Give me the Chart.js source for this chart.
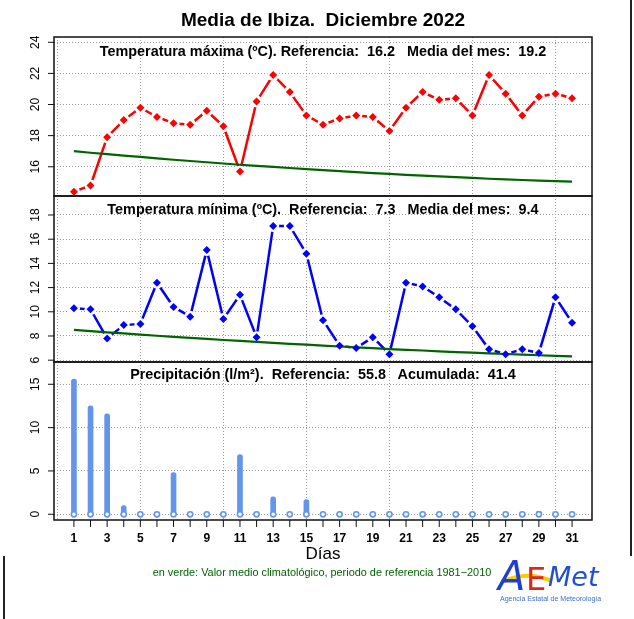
<!DOCTYPE html>
<html>
<head>
<meta charset="utf-8">
<script src="https://cdn.jsdelivr.net/npm/chart.js@4.4.0/dist/chart.umd.min.js"></script>
<style>
  body { margin: 0; background: #fff; font-family: "Liberation Sans", Arial, sans-serif; }
  #page { position: relative; width: 634px; height: 619px; overflow: hidden; }
  canvas { position: absolute; left: 0; }
  .txt { position: absolute; white-space: pre; text-align: center; transform: translate(-50%, -50%); }
  .edge { position: absolute; background: #222; width: 1.5px; }
</style>
</head>
<body>
<div id="page">
  <canvas id="cMax" width="634" height="179" style="top:27px"></canvas>
  <canvas id="cMin" width="634" height="186" style="top:186px"></canvas>
  <canvas id="cPre" width="634" height="200" style="top:352px"></canvas>

  <div class="txt" style="left:323px;top:20px;font-weight:bold;font-size:19px">Media de Ibiza.  Diciembre 2022</div>
  <div class="txt" style="left:323px;top:51px;font-weight:bold;font-size:14.4px">Temperatura máxima (ºC). Referencia:  16.2   Media del mes:  19.2</div>
  <div class="txt" style="left:323px;top:209px;font-weight:bold;font-size:14.4px">Temperatura mínima (ºC).  Referencia:  7.3   Media del mes:  9.4</div>
  <div class="txt" style="left:323px;top:374px;font-weight:bold;font-size:14.4px">Precipitación (l/m²).  Referencia:  55.8   Acumulada:  41.4</div>
  <div class="txt" style="left:323px;top:554px;font-size:17px">Días</div>
  <div class="txt" style="left:322px;top:572px;font-size:10.9px;color:#006400">en verde: Valor medio climatológico, periodo de referencia 1981−2010</div>

  <svg style="position:absolute;left:496px;top:550px" width="110" height="58">
    <path d="M6 32 C 22 24, 40 24, 56 31" stroke="#f5d000" stroke-width="4" fill="none"/>
    <text x="2" y="40" font-family="DejaVu Sans" font-style="italic" font-size="40" fill="#1f3fd0">A</text>
    <text x="30" y="40" font-family="DejaVu Sans" font-size="32" fill="#e0251b">E</text>
    <text x="52" y="36" font-family="DejaVu Sans" font-style="italic" font-size="27" fill="#1f4fd8">Met</text>
    <text x="4" y="51" font-family="Liberation Sans" font-size="7" fill="#3a6fd8">Agencia Estatal de Meteorología</text>
  </svg>

  <div class="edge" style="left:630px;top:0;height:556px"></div>
  <div class="edge" style="left:3px;top:556px;height:63px"></div>
</div>

<script>
// Data
const days = [1,2,3,4,5,6,7,8,9,10,11,12,13,14,15,16,17,18,19,20,21,22,23,24,25,26,27,28,29,30,31];

const tmax = [14.4,14.8,17.9,19.0,19.8,19.2,18.8,18.7,19.6,18.6,15.7,20.2,21.9,20.8,19.3,18.7,
              19.1,19.3,19.2,18.3,19.8,20.8,20.3,20.4,19.3,21.9,20.7,19.3,20.5,20.7,20.4];
const tmaxRef = [17.00,16.90,16.81,16.72,16.63,16.54,16.45,16.37,16.29,16.21,16.13,16.06,15.99,15.92,15.85,15.78,
                 15.72,15.65,15.59,15.54,15.48,15.43,15.38,15.33,15.28,15.23,15.19,15.15,15.11,15.07,15.04];

const tmin = [10.3,10.2,7.8,8.9,9.0,12.4,10.4,9.6,15.1,9.4,11.4,7.9,17.1,17.1,14.8,9.3,
              7.2,7.0,7.9,6.5,12.4,12.1,11.2,10.2,8.8,6.9,6.5,6.9,6.6,11.2,9.1];
const tminRef = [8.50,8.40,8.30,8.21,8.11,8.02,7.93,7.84,7.76,7.67,7.59,7.51,7.43,7.35,7.28,7.20,
                 7.13,7.06,6.99,6.92,6.86,6.80,6.73,6.67,6.62,6.56,6.51,6.46,6.41,6.36,6.31];

const precip = [15.6,12.5,11.6,1.0,0.1,0,4.8,0,0,0.1,6.9,0,2.0,0,1.7,0,
                0,0,0,0.1,0,0,0,0,0.1,0,0,0,0.3,0,0];

const xGrid = [0,5,10,15,20,25,30];
const maxTicks = [16,18,20,22,24];
const minTicks = [6,8,10,12,14,16,18];
const preTicks = [0,5,10,15];
const xLabels = [1,3,5,7,9,11,13,15,17,19,21,23,25,27,29,31];

const pts = vals => days.map((d, i) => ({ x: d, y: vals[i] }));

// frame, rotated y labels, outer ticks
const framePlugin = {
  id: 'frame',
  afterDatasetsDraw(chart, args, opts) {
    const { ctx, chartArea: a } = chart;
    const ys = chart.scales.y;
    ctx.save();
    ctx.strokeStyle = '#111';
    ctx.lineWidth = 1.5;
    ctx.strokeRect(a.left, a.top, a.right - a.left, a.bottom - a.top);
    ctx.lineWidth = 1;
    ctx.fillStyle = '#000';
    ctx.font = '12px "Liberation Sans", Arial, sans-serif';
    ctx.textAlign = 'center';
    ctx.textBaseline = 'middle';
    opts.yTicks.forEach(v => {
      const y = ys.getPixelForValue(v);
      ctx.beginPath();
      ctx.moveTo(a.left - 6, y);
      ctx.lineTo(a.left, y);
      ctx.stroke();
      ctx.save();
      ctx.translate(a.left - 18, y);
      ctx.rotate(-Math.PI / 2);
      ctx.fillText(String(v), 0, 0);
      ctx.restore();
    });
    if (opts.xAxis) {
      const xs = chart.scales.x;
      ctx.font = 'bold 12px "Liberation Sans", Arial, sans-serif';
      ctx.textBaseline = 'top';
      days.forEach(d => {
        const x = xs.getPixelForValue(d);
        ctx.beginPath();
        ctx.moveTo(x, a.bottom);
        ctx.lineTo(x, a.bottom + 7);
        ctx.stroke();
      });
      xLabels.forEach(d => ctx.fillText(String(d), xs.getPixelForValue(d), a.bottom + 13));
    }
    ctx.restore();
  }
};

function baseOptions(yMin, yMax, yTicks, padBottom, xAxis) {
  const grid = { color: '#9a9a9a', lineWidth: 1, drawTicks: false, offset: false };
  const border = { display: false, dash: [1, 2] };
  return {
    responsive: false,
    animation: false,
    layout: { padding: { left: 54, right: 42, top: 10, bottom: padBottom } },
    plugins: { legend: { display: false }, tooltip: { enabled: false }, frame: { yTicks, xAxis } },
    scales: {
      x: {
        type: 'linear', min: -0.2, max: 32.2, offset: false,
        grid, border,
        ticks: { display: false },
        afterBuildTicks: s => { s.ticks = xGrid.map(v => ({ value: v })); },
        afterFit: s => { s.height = 0; }
      },
      y: {
        type: 'linear', min: yMin, max: yMax,
        grid, border,
        ticks: { display: false },
        afterBuildTicks: s => { s.ticks = yTicks.map(v => ({ value: v })); },
        afterFit: s => { s.width = 0; }
      }
    }
  };
}

function tempChart(id, vals, ref, color, yMin, yMax, yTicks) {
  return new Chart(document.getElementById(id), {
    type: 'line',
    data: {
      datasets: [
        { data: pts(vals), order: 0, showLine: false, pointStyle: 'rectRot', pointRadius: 4,
          pointBackgroundColor: color, pointBorderColor: color, pointBorderWidth: 0 },
        { data: pts(ref), order: 1, borderColor: '#006400', borderWidth: 2.2, pointRadius: 0, tension: 0 },
        { data: pts(vals), order: 2, showLine: false, pointStyle: 'circle', pointRadius: 6,
          pointBackgroundColor: '#fff', pointBorderWidth: 0 },
        { data: pts(vals), order: 3, borderColor: color, borderWidth: 2.5, pointRadius: 0, tension: 0 }
      ]
    },
    options: baseOptions(yMin, yMax, yTicks, 10, false),
    plugins: [framePlugin]
  });
}

tempChart('cMax', tmax, tmaxRef, '#ff0000', 14.12, 24.34, maxTicks);
tempChart('cMin', tmin, tminRef, '#0000ff', 5.85, 19.57, minTicks);

new Chart(document.getElementById('cPre'), {
  type: 'bar',
  data: {
    datasets: [
      { type: 'scatter', data: days.map(d => ({ x: d, y: 0 })), order: 0, pointRadius: 2.6,
        pointBackgroundColor: '#fff', pointBorderColor: '#6495ed', pointBorderWidth: 1.6 },
      { type: 'bar', data: pts(precip), order: 1, backgroundColor: '#6495ed',
        barThickness: 5, borderRadius: { topLeft: 2.5, topRight: 2.5 }, borderSkipped: 'start' }
    ]
  },
  options: baseOptions(-0.66, 17.57, preTicks, 32, true),
  plugins: [framePlugin]
});
</script>
</body>
</html>
